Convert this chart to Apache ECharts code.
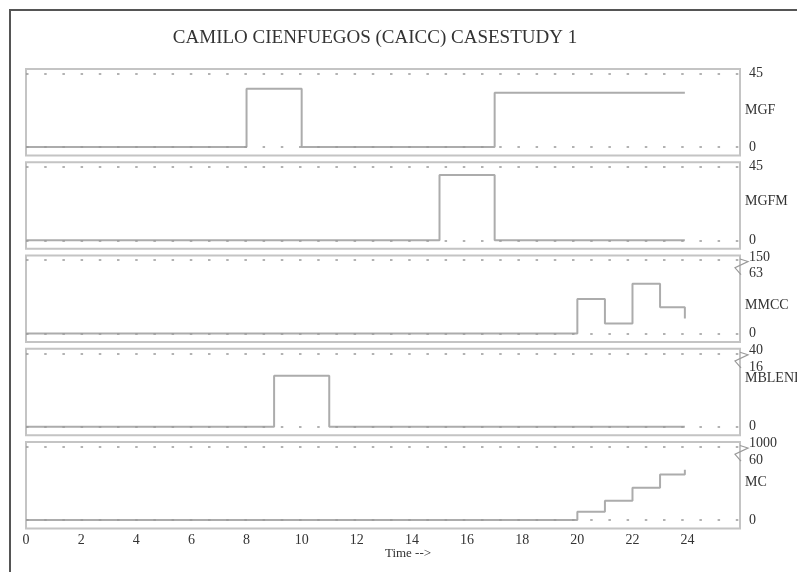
<!DOCTYPE html>
<html><head><meta charset="utf-8">
<script src="https://cdn.jsdelivr.net/npm/echarts@6/dist/echarts.min.js"></script>
<style>html,body{margin:0;padding:0;background:#fff}#c{width:797px;height:572px}</style>
</head><body><div id="c"></div>
<script>
// ---------- data ----------
const titleText = 'CAMILO CIENFUEGOS (CAICC) CASESTUDY 1';
const xAxisName = 'Time -->';
const panelNames = ['MGF', 'MGFM', 'MMCC', 'MBLEND', 'MC'];
const axisTopLabels = [45, 45, 150, 40, 1000];
const axisBreakLabels = [null, null, 63, 16, 60];

const mgfTime = [0, 8, 10, 17, 23.9];
const mgfValue = [0, 35.6, 0, 33.2, 33.2];
const mgfmTime = [0, 15, 17, 23.9];
const mgfmValue = [0, 40, 0, 0];
const mmccTime = [0, 20, 21, 22, 23, 23.9];
const mmccValue = [0, 36.4, 10.5, 52.2, 27.6, 15.7];
const mblendTime = [0, 9, 11, 23.9];
const mblendValue = [0, 13.6, 0, 0];
const mcTime = [0, 20, 21, 22, 23, 23.9];
const mcValue = [0, 8.2, 19.3, 32.4, 45.5, 50.4];

const panelTimes = [mgfTime, mgfmTime, mmccTime, mblendTime, mcTime];
const panelValues = [mgfValue, mgfmValue, mmccValue, mblendValue, mcValue];

// ---------- layout / style ----------
const FONT = 'Liberation Serif';
const TEXT = '#333';
const LINE = '#acacac';
const BOX = '#c4c4c4';
const DOT = '#999';
const GRID_LEFT = 26, GRID_RIGHT = 57;
const PANEL_TOP0 = 69, PANEL_STEP = 93.25, PANEL_H = 86.5;
const PAD_TOP = 4.5, PAD_BOTTOM = 8.5;
const BREAK_FRAC = 0.815;
const X_MAX = 25.9;
const nameShift = [-2, -4, 7, -14, -3];

const chart = echarts.init(document.getElementById('c'), null, {renderer: 'canvas'});
const grids = [], xAxes = [], yAxes = [], series = [];
const dataTops = [];

panelNames.forEach((name, i) => {
  const top = PANEL_TOP0 + i * PANEL_STEP;
  grids.push({left: GRID_LEFT, right: GRID_RIGHT, top: top, height: PANEL_H,
    show: true, borderColor: BOX, borderWidth: 2, backgroundColor: 'transparent',
    containLabel: false, outerBoundsMode: 'none'});
  const brk = axisBreakLabels[i];
  const topLbl = axisTopLabels[i];
  const dataTop = brk != null ? brk / BREAK_FRAC : topLbl;
  dataTops.push(dataTop);
  const dataH = PANEL_H - PAD_TOP - PAD_BOTTOM;
  const upp = dataTop / dataH;
  const last = i === panelNames.length - 1;
  xAxes.push({type: 'value', gridIndex: i, min: 0, max: X_MAX, interval: 2,
    axisLine: {show: false}, axisTick: {show: false}, splitLine: {show: false},
    axisLabel: {show: last, margin: 5, fontSize: 14, fontFamily: FONT, color: TEXT, showMaxLabel: false},
    name: last ? xAxisName : '', nameLocation: 'middle', nameGap: 19, nameMoveOverlap: false,
    nameTextStyle: {fontSize: 13, fontFamily: FONT, color: TEXT, padding: [0, 0, 0, 50]}
  });
  const custom = brk != null ? [0, brk, dataTop] : [0, topLbl];
  const sh = nameShift[i];
  yAxes.push({type: 'value', gridIndex: i, position: 'right',
    min: -PAD_BOTTOM * upp, max: dataTop + PAD_TOP * upp,
    axisLine: {show: false}, axisTick: {show: false}, splitLine: {show: false},
    axisLabel: {customValues: custom, margin: 9, fontSize: 14, fontFamily: FONT, color: TEXT,
      formatter: function (v) {
        if (brk != null && Math.abs(v - dataTop) < 1e-6) return '{t|' + topLbl + '}';
        return String(Math.round(v));
      },
      rich: {t: {fontSize: 14, fontFamily: FONT, color: TEXT, padding: [0, 0, 6, 0]}}
    },
    name: '{n|' + name + '}', nameLocation: 'middle', nameRotate: 0, nameGap: 5, nameMoveOverlap: false,
    nameTextStyle: {fontSize: 14, fontFamily: FONT, color: TEXT, align: 'left', verticalAlign: 'middle',
      rich: {n: {fontSize: 14, fontFamily: FONT, color: TEXT,
        padding: sh < 0 ? [0, 0, -2 * sh, 0] : [2 * sh, 0, 0, 0]}}}
  });
  series.push({type: 'line', xAxisIndex: i, yAxisIndex: i, step: 'end', symbol: 'none',
    data: panelTimes[i].map((t, k) => [t, panelValues[i][k]]),
    lineStyle: {color: LINE, width: 2}, animation: false, z: 3,
    markLine: {silent: true, symbol: ['none', 'none'], label: {show: false}, animation: false,
      lineStyle: {color: DOT, width: 1.5, type: [2.5, 15.7]},
      emphasis: {disabled: true},
      data: [{yAxis: 0}, {yAxis: dataTop}]}
  });
});

chart.setOption({
  backgroundColor: '#fff',
  animation: false,
  title: {text: titleText, left: 375, top: 29, textAlign: 'center', padding: 0,
    textStyle: {fontSize: 19, fontFamily: FONT, fontWeight: 'normal', color: TEXT}},
  grid: grids, xAxis: xAxes, yAxis: yAxes, series: series
});

// decorations: outer frame and axis-break zigzags
const gfx = [{type: 'rect', shape: {x: 10, y: 10, width: 820, height: 620},
  style: {fill: 'none', stroke: '#555', lineWidth: 2}, silent: true, z: 0}];
panelNames.forEach((n, i) => {
  const brk = axisBreakLabels[i];
  if (brk == null) return;
  const yTop = chart.convertToPixel({yAxisIndex: i}, dataTops[i]);
  const yBrk = chart.convertToPixel({yAxisIndex: i}, brk);
  const xR = chart.convertToPixel({xAxisIndex: i}, X_MAX);
  gfx.push({type: 'polyline', silent: true, z: 10,
    shape: {points: [[xR, yTop - 1], [xR + 8, yTop + 1.5], [xR - 5, (yTop + yBrk) / 2 + 1], [xR + 1, yBrk + 1]]},
    style: {stroke: '#999', lineWidth: 1.2, fill: 'none'}});
});
chart.setOption({graphic: gfx});
</script>
</body></html>
